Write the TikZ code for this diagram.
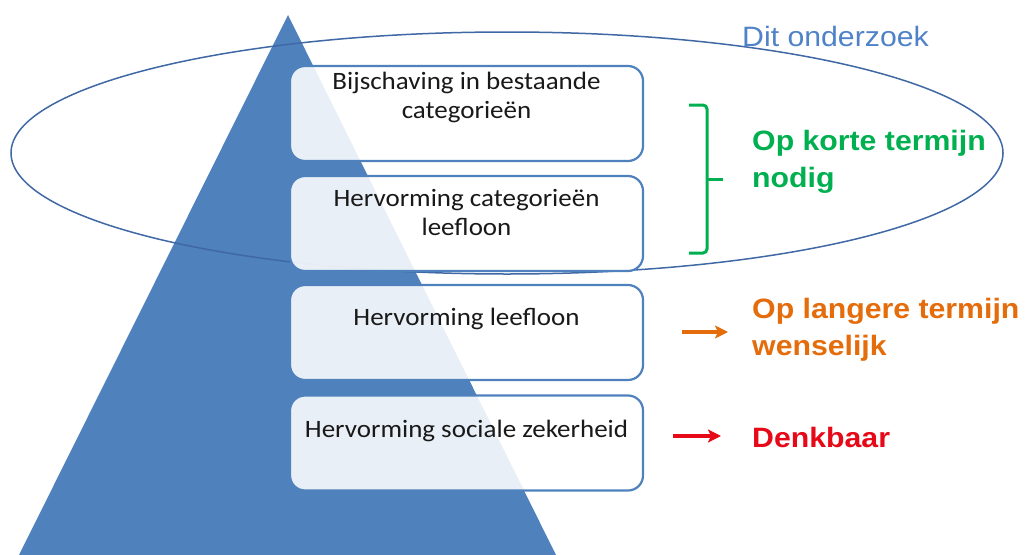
\documentclass[tikz,border=0pt]{standalone}
\usepackage{fontspec}
\setmainfont{Carlito}
\newfontfamily\arialfont{Liberation Sans}
\usetikzlibrary{arrows.meta}
\definecolor{tri}{RGB}{79,129,189}
\definecolor{ellc}{RGB}{64,104,165}
\definecolor{boxc}{RGB}{79,129,189}
\definecolor{ditc}{RGB}{80,130,200}
\definecolor{grn}{RGB}{0,176,80}
\definecolor{org}{RGB}{228,108,10}
\definecolor{rd}{RGB}{230,10,25}
\tikzset{
  stretch/.style={transform shape, xscale=1.08},
  box/.style={draw=boxc, line width=2.2pt, rounded corners=15pt, fill=white, fill opacity=0.88,
    minimum width=353, minimum height=95, inner sep=0pt},
  btxt/.style={stretch, align=center, inner sep=0pt, text=black!90, font=\fontsize{25}{29}\selectfont},
  lbl/.style={stretch, align=left, inner sep=0pt, font=\arialfont\bfseries\fontsize{28}{37}\selectfont},
  brk/.style={draw=grn, line width=3pt, rounded corners=4pt},
  arr/.style={line width=4pt, -{Stealth[length=13pt,width=13pt,inset=3pt]}}
}
\begin{document}
\begin{tikzpicture}[x=1pt,y=-1pt]
\useasboundingbox (0,0) rectangle (1033,554);
% pyramid
\fill[tri] (288,15) -- (556,555) -- (19,555) -- cycle;
% ellipse
\draw[ellc, line width=1.5pt] (507,153) ellipse [x radius=496, y radius=121];
% boxes
\node[box] (b1) at (466.5,113.5) {};
\node[box] (b2) at (466.5,223.5) {};
\node[box] (b3) at (466.5,332.5) {};
\node[box] (b4) at (466.5,443) {};
\node[btxt, anchor=base] (t1) at (466.5,118) {Bijschaving in bestaande\\categorieën};
\node[btxt, anchor=base] (t2) at (466.5,235) {Hervorming categorieën\\leefloon};
\node[btxt, anchor=base] (t3) at (466.5,325) {Hervorming leefloon};
\node[btxt, anchor=base] (t4) at (466.5,437) {Hervorming sociale zekerheid};
% title
\node[stretch, inner sep=0pt, anchor=base west, text=ditc, font=\arialfont\fontsize{28}{34}\selectfont] (dit) at (742,46) {Dit onderzoek};
% labels
\node[lbl, text=grn, anchor=base west] (g) at (752,187) {Op korte termijn\\nodig};
\node[lbl, text=org, anchor=base west] (o) at (752,355) {Op langere termijn\\wenselijk};
\node[lbl, text=rd, anchor=base west] (r) at (752,447) {Denkbaar};
% bracket
\coordinate (bt) at (689,105);
\coordinate (bb) at (689,253);
\coordinate (bm) at (723,179);
\draw[brk] (bt) -- (707,105) -- (707,253) -- (bb);
\draw[brk] (707,179) -- (bm);
% arrows
\coordinate (oa) at (682,332);
\coordinate (ob) at (728,332);
\coordinate (ra) at (673,436);
\coordinate (rb) at (721,436);
\draw[arr, draw=org, fill=org] (oa) -- (ob);
\draw[arr, draw=rd, fill=rd] (ra) -- (rb);
\end{tikzpicture}
\end{document}
